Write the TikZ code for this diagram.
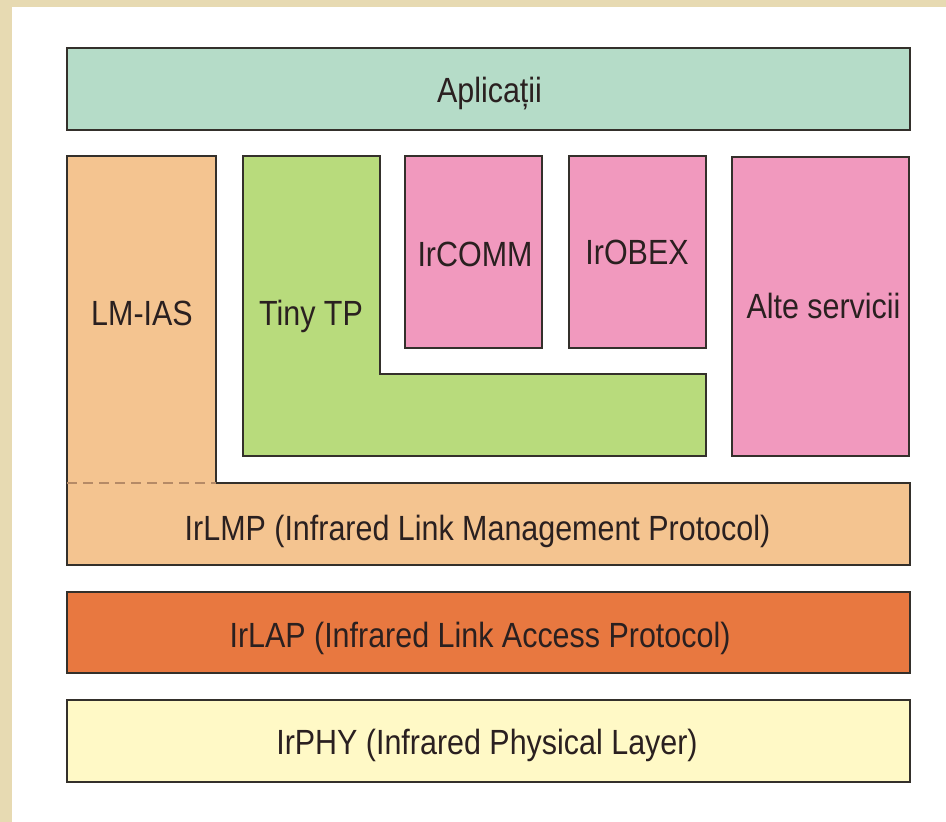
\documentclass[tikz,border=0pt]{standalone}
\usepackage{fontspec}
\setmainfont{Liberation Sans}
\newfontfamily\layerfont[FakeStretch=0.87]{Liberation Sans}
\definecolor{bgbeige}{HTML}{E7DAB2}
\definecolor{edgedark}{HTML}{34302B}
\definecolor{txtdark}{HTML}{2A2020}
\definecolor{aplgreen}{HTML}{B5DCC8}
\definecolor{lmpeach}{HTML}{F4C490}
\definecolor{tpgreen}{HTML}{B8DB7C}
\definecolor{svcpink}{HTML}{F199BE}
\definecolor{lapred}{HTML}{E87840}
\definecolor{phyyellow}{HTML}{FFF9C6}
\definecolor{dashbrown}{HTML}{B58A66}
\tikzset{
  layer/.style={draw=edgedark, line width=1.7pt, inner sep=0pt},
  label/.style={inner sep=0pt, anchor=base, text=txtdark,
    font=\layerfont\fontsize{35}{40}\selectfont}
}

\begin{document}
\begin{tikzpicture}[x=1pt,y=-1pt]
  \fill[bgbeige] (0,0) rectangle (946,822);
  \fill[white] (12,7) rectangle (946,822);
  \useasboundingbox (0,0) rectangle (946,822);
  % top layer
  \node[layer, fill=aplgreen, minimum width=843pt, minimum height=82pt] (apl) at (488.5,89) {};
  \node[label] (apltxt) at (489.5,102) {Aplicații};
  % LM-IAS + IrLMP
  \draw[layer, fill=lmpeach] (67,156) -- (216,156) -- (216,483) -- (910,483)
    -- (910,565) -- (67,565) -- cycle;
  \coordinate (dashL) at (67,483);
  \coordinate (dashR) at (216,483);
  \draw[dashbrown, line width=1.2pt, dash pattern=on 10pt off 6pt] (dashL) -- (dashR);
  \node[label] (lmias) at (142,325) {LM-IAS};
  \node[label] (irlmp) at (477.5,540) {IrLMP (Infrared Link Management Protocol)};
  % Tiny TP
  \draw[layer, fill=tpgreen] (243,156) -- (380,156) -- (380,374) -- (706,374)
    -- (706,456) -- (243,456) -- cycle;
  \node[label] (tinytp) at (311,325) {Tiny TP};
  % services
  \node[layer, fill=svcpink, minimum width=137pt, minimum height=192pt] (ircomm) at (473.5,252) {};
  \node[layer, fill=svcpink, minimum width=137pt, minimum height=192pt] (irobex) at (637.5,252) {};
  \node[layer, fill=svcpink, minimum width=177pt, minimum height=299pt] (alte) at (820.5,306.5) {};
  \node[label] (ircommtxt) at (475,266) {IrCOMM};
  \node[label] (irobextxt) at (637,264) {IrOBEX};
  \node[label] (altetxt) at (823.5,318) {Alte servicii};
  % lower layers
  \node[layer, fill=lapred, minimum width=843pt, minimum height=81pt] (irlap) at (488.5,632.5) {};
  \node[label] (irlaptxt) at (480,647) {IrLAP (Infrared Link Access Protocol)};
  \node[layer, fill=phyyellow, minimum width=843pt, minimum height=82pt] (irphy) at (488.5,741) {};
  \node[label] (irphytxt) at (487,754) {IrPHY (Infrared Physical Layer)};
\end{tikzpicture}
\end{document}
